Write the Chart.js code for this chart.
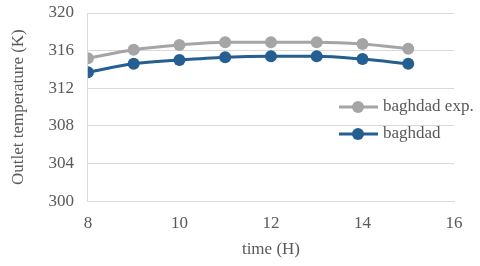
<!DOCTYPE html>
<html>
<head>
<meta charset="utf-8">
<script src="https://cdn.jsdelivr.net/npm/chart.js@4.4.1/dist/chart.umd.min.js"></script>
<style>
  html, body { margin: 0; padding: 0; background: #fff; }
  #wrap { width: 480px; height: 266px; position: relative; }
</style>
</head>
<body>
<div id="wrap"><canvas id="tempChart"></canvas></div>
<script>
// Data
const hours = [8, 9, 10, 11, 12, 13, 14, 15];
const baghdadExp = [315.2, 316.1, 316.6, 316.9, 316.9, 316.9, 316.7, 316.2];
const baghdad = [313.7, 314.6, 315.0, 315.3, 315.4, 315.4, 315.1, 314.6];
const seriesNames = ['baghdad exp.', 'baghdad'];

const serif = "'Liberation Serif', 'Times New Roman', serif";
const textColor = '#595959';
const gridColor = '#d9d9d9';

// Legend drawn inside the plot area, on the right
const insideLegend = {
    id: 'insideLegend',
    afterDraw(chart) {
        const ctx = chart.ctx;
        const rows = [107, 134];
        ctx.save();
        chart.data.datasets.forEach(function(ds, i) {
            const y = rows[i];
            ctx.strokeStyle = ds.borderColor;
            ctx.lineWidth = 3;
            ctx.beginPath();
            ctx.moveTo(339, y);
            ctx.lineTo(378, y);
            ctx.stroke();
            ctx.fillStyle = ds.pointBackgroundColor;
            ctx.beginPath();
            ctx.arc(358, y, 6, 0, Math.PI * 2);
            ctx.fill();
            ctx.fillStyle = textColor;
            ctx.font = '17px ' + serif;
            ctx.textBaseline = 'middle';
            ctx.fillText(ds.label, 383, y);
        });
        ctx.restore();
    }
};

function points(values) {
    return hours.map(function(h, i) { return { x: h, y: values[i] }; });
}

const ctx = document.getElementById('tempChart').getContext('2d');
const chart = new Chart(ctx, {
    type: 'line',
    data: {
        datasets: [{
            label: seriesNames[0],
            data: points(baghdadExp),
            borderColor: '#a5a5a5',
            backgroundColor: '#a5a5a5',
            pointBackgroundColor: '#a5a5a5',
            pointBorderColor: '#a5a5a5',
            borderWidth: 3,
            pointRadius: 6,
            pointBorderWidth: 0,
            tension: 0.4,
            cubicInterpolationMode: 'monotone'
        }, {
            label: seriesNames[1],
            data: points(baghdad),
            borderColor: '#255e91',
            backgroundColor: '#255e91',
            pointBackgroundColor: '#255e91',
            pointBorderColor: '#255e91',
            borderWidth: 3,
            pointRadius: 6,
            pointBorderWidth: 0,
            tension: 0.4,
            cubicInterpolationMode: 'monotone'
        }]
    },
    options: {
        responsive: true,
        maintainAspectRatio: false,
        animation: false,
        layout: {
            padding: { left: 4, right: 26, top: 13, bottom: 2 }
        },
        plugins: {
            legend: { display: false },
            tooltip: { enabled: false }
        },
        scales: {
            x: {
                type: 'linear',
                min: 8,
                max: 16,
                ticks: {
                    stepSize: 2,
                    color: textColor,
                    font: { family: serif, size: 17 },
                    padding: 4
                },
                grid: { display: false },
                border: { color: gridColor, width: 1 },
                title: {
                    display: true,
                    text: 'time (H)',
                    color: textColor,
                    font: { family: serif, size: 17 },
                    padding: { top: 2 }
                }
            },
            y: {
                min: 300,
                max: 320,
                afterFit: function(scale) {
                    // let the top tick label hang over the padding
                    scale.paddingTop = 0;
                },
                ticks: {
                    stepSize: 4,
                    color: textColor,
                    font: { family: serif, size: 17 },
                    padding: 14
                },
                grid: { color: gridColor, drawTicks: false },
                border: { color: gridColor, width: 1 },
                title: {
                    display: true,
                    text: 'Outlet temperature (K)',
                    color: textColor,
                    font: { family: serif, size: 17 },
                    padding: { bottom: 6 }
                }
            }
        }
    },
    plugins: [insideLegend]
});
</script>
</body>
</html>
